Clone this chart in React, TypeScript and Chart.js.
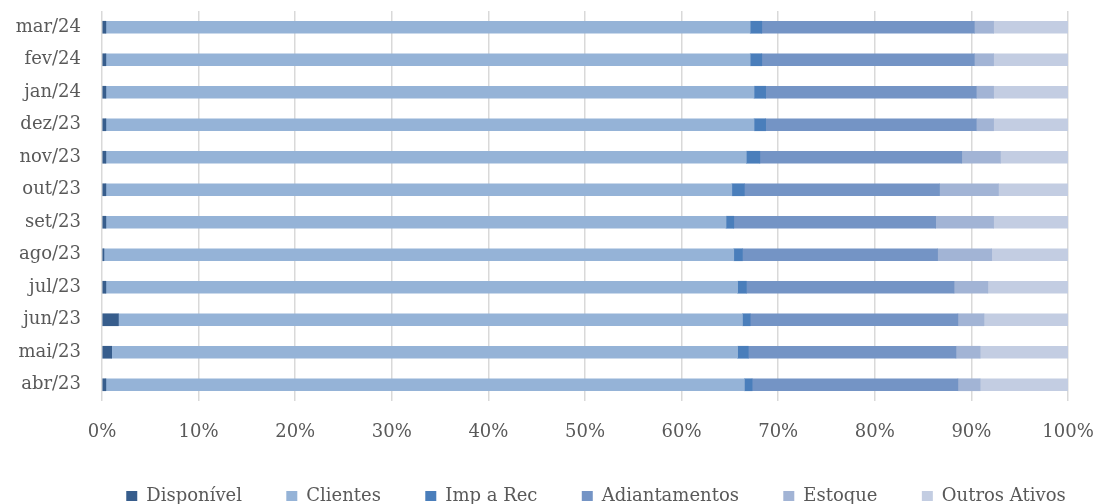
import React, { useEffect, useRef } from "react";
import { Chart, registerables } from "chart.js";

Chart.register(...registerables);

const categories = ["abr/23", "mai/23", "jun/23", "jul/23", "ago/23", "set/23", "out/23", "nov/23", "dez/23", "jan/24", "fev/24", "mar/24"];
const disponivel = [0.4, 1.0, 1.7, 0.4, 0.2, 0.4, 0.4, 0.4, 0.4, 0.4, 0.4, 0.4];
const clientes = [66.1, 64.8, 64.6, 65.4, 65.2, 64.2, 64.8, 66.3, 67.1, 67.1, 66.7, 66.7];
const impARec = [0.8, 1.1, 0.8, 0.9, 0.9, 0.8, 1.3, 1.4, 1.2, 1.2, 1.2, 1.2];
const adiantamentos = [21.3, 21.5, 21.5, 21.5, 20.2, 20.9, 20.2, 20.9, 21.8, 21.8, 22.0, 22.0];
const estoque = [2.3, 2.5, 2.7, 3.5, 5.6, 6.0, 6.1, 4.0, 1.8, 1.8, 2.0, 2.0];
const outrosAtivos = [9.1, 9.1, 8.7, 8.3, 7.9, 7.7, 7.2, 7.0, 7.7, 7.7, 7.7, 7.7];
const xTicks = [0, 10, 20, 30, 40, 50, 60, 70, 80, 90, 100];

const seriesNames = ["Disponível", "Clientes", "Imp a Rec", "Adiantamentos", "Estoque", "Outros Ativos"];
const seriesColors = ["#375D8C", "#95B3D7", "#4A7EBB", "#7494C5", "#A2B4D5", "#C3CDE2"];

const FONT = "'DejaVu Serif', serif";
const TEXT = "#595959";
const GAP = "\u00A0\u00A0\u00A0\u00A0\u00A0\u00A0";

const legendShift = {
  id: "legendShift",
  afterLayout(chart: any) {
    const lg = chart.legend;
    if (lg) {
      lg.left += 62;
      lg.right += 62;
    }
  },
};

export default function App() {
  const ref = useRef<HTMLCanvasElement | null>(null);
  useEffect(() => {
    if (!ref.current) return;
    const values = [disponivel, clientes, impARec, adiantamentos, estoque, outrosAtivos];
    const chart = new Chart(ref.current, {
      type: "bar",
      data: {
        labels: categories,
        datasets: values.map((v, i) => ({
          label: seriesNames[i],
          data: v,
          backgroundColor: seriesColors[i],
          borderWidth: 0,
          barThickness: 12,
        })),
      },
      plugins: [legendShift],
      options: {
        indexAxis: "y",
        responsive: false,
        animation: false,
        layout: { autoPadding: false, padding: { top: 11, right: 30, left: 0, bottom: -11 } },
        plugins: {
          tooltip: { enabled: false },
          legend: {
            position: "bottom",
            labels: {
              boxWidth: 11,
              boxHeight: 10,
              padding: 10,
              color: TEXT,
              font: { family: FONT, size: 18 },
              generateLabels: (c: any) => {
                const items = Chart.defaults.plugins.legend.labels.generateLabels(c);
                return items.map((it: any, i: number) => ({
                  ...it,
                  text: i < items.length - 1 ? it.text + GAP : it.text,
                }));
              },
            },
          },
        },
        scales: {
          x: {
            stacked: true,
            min: 0,
            max: 100,
            afterBuildTicks: (scale: any) => {
              scale.ticks = xTicks.map((v) => ({ value: v }));
            },
            afterFit: (scale: any) => {
              scale.height = 76;
              scale.paddingLeft = 0;
              scale.paddingRight = 0;
            },
            grid: { color: "#D9D9D9", lineWidth: 1.5, drawTicks: false },
            border: { display: false },
            ticks: {
              padding: 21,
              maxRotation: 0,
              autoSkip: false,
              color: TEXT,
              font: { family: FONT, size: 18 },
              callback: (v: any) => v + "%",
            },
          },
          y: {
            stacked: true,
            reverse: true,
            afterFit: (scale: any) => {
              scale.width = 102;
              scale.paddingTop = 0;
              scale.paddingBottom = 0;
            },
            grid: { display: false, drawTicks: false },
            border: { display: false },
            ticks: {
              padding: 21,
              autoSkip: false,
              color: TEXT,
              font: { family: FONT, size: 18 },
            },
          },
        },
      },
    });
    return () => chart.destroy();
  }, []);
  return (
    <div style={{ position: "absolute", left: 0, top: 0, width: 1098, height: 504, background: "#fff" }}>
      <canvas ref={ref} width={1098} height={504} style={{ width: 1098, height: 504 }} />
    </div>
  );
}
